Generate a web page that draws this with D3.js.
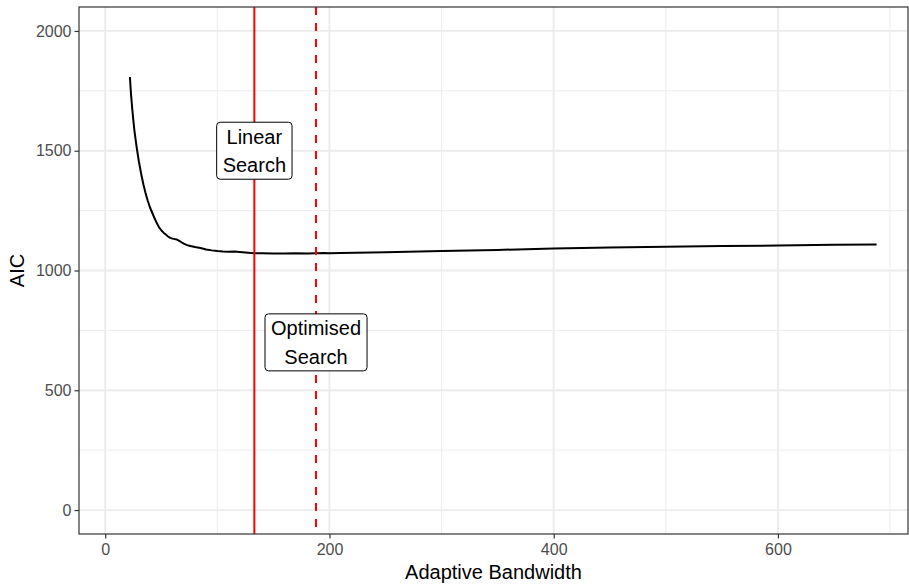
<!DOCTYPE html>
<html>
<head>
<meta charset="utf-8">
<script src="https://cdn.jsdelivr.net/npm/d3@7"></script>
<style>
  html, body { margin: 0; padding: 0; background: #fff; }
  svg { display: block; font-family: "Liberation Sans", Arial, Helvetica, sans-serif; }
</style>
</head>
<body>
<svg id="chart" width="909" height="585"></svg>
<script>
// ---- data ----
const bandwidth = [22, 23, 24, 25, 26, 28, 30, 32, 34, 36, 38, 40, 42, 44, 46, 48, 50, 52, 54, 56, 58, 60, 62, 64, 66, 68, 70, 73, 76, 80, 85, 90, 95, 100, 105, 110, 115, 120, 125, 130, 133, 140, 150, 160, 170, 180, 188, 195, 200, 210, 250, 300, 350, 400, 450, 500, 550, 600, 650, 688];
const aic = [1808, 1735, 1680, 1630, 1585, 1515, 1455, 1405, 1360, 1322, 1290, 1262, 1240, 1218, 1198, 1180, 1168, 1158, 1150, 1142, 1136, 1133, 1131, 1129, 1124, 1118, 1112, 1106, 1102, 1098, 1094, 1088, 1084, 1081, 1079, 1078, 1079, 1077, 1075, 1073, 1072, 1072, 1071, 1071, 1072, 1071, 1072, 1073, 1072, 1073, 1076, 1081, 1086, 1092, 1096, 1099, 1102, 1104, 1107, 1109];
const searchNames = ["Linear\nSearch", "Optimised\nSearch"];
const searchBandwidth = [133, 188];
const searchLabelY = [1500, 700];
const searchDash = ["none", "8,8"];
const xTicks = [0, 200, 400, 600];
const xMinor = [100, 300, 500, 700];
const yTicks = [0, 500, 1000, 1500, 2000];
const yMinor = [250, 750, 1250, 1750];
const xTitle = "Adaptive Bandwidth";
const yTitle = "AIC";

// ---- layout ----
const svg = d3.select("#chart");
const P = { left: 79, right: 908, top: 7, bottom: 534 };
const x = d3.scaleLinear().domain([-23.4, 716]).range([P.left, P.right]);
const y = d3.scaleLinear().domain([-100, 2100]).range([P.bottom, P.top]);

const grid = svg.append("g");
grid.selectAll(".xmin").data(xMinor).join("line")
  .attr("x1", d => x(d)).attr("x2", d => x(d)).attr("y1", P.top).attr("y2", P.bottom)
  .attr("stroke", "#EBEBEB").attr("stroke-width", 0.9);
grid.selectAll(".ymin").data(yMinor).join("line")
  .attr("y1", d => y(d)).attr("y2", d => y(d)).attr("x1", P.left).attr("x2", P.right)
  .attr("stroke", "#EBEBEB").attr("stroke-width", 0.9);
grid.selectAll(".xmaj").data(xTicks).join("line")
  .attr("x1", d => x(d)).attr("x2", d => x(d)).attr("y1", P.top).attr("y2", P.bottom)
  .attr("stroke", "#EBEBEB").attr("stroke-width", 1.8);
grid.selectAll(".ymaj").data(yTicks).join("line")
  .attr("y1", d => y(d)).attr("y2", d => y(d)).attr("x1", P.left).attr("x2", P.right)
  .attr("stroke", "#EBEBEB").attr("stroke-width", 1.8);

// curve
const pts = bandwidth.map((b, i) => [b, aic[i]]);
svg.append("path").datum(pts)
  .attr("fill", "none").attr("stroke", "#000").attr("stroke-width", 2)
  .attr("stroke-linejoin", "round")
  .attr("d", d3.line().x(d => x(d[0])).y(d => y(d[1])));

// vertical lines
svg.selectAll(".vl").data(searchBandwidth).join("line")
  .attr("x1", d => x(d)).attr("x2", d => x(d)).attr("y1", P.top).attr("y2", P.bottom)
  .attr("stroke", "#FF0000").attr("stroke-width", 2)
  .attr("stroke-dasharray", (d, i) => searchDash[i]);

// labels
searchNames.forEach((name, i) => {
  const lines = name.split("\n");
  const cx = x(searchBandwidth[i]), cy = y(searchLabelY[i]);
  const g = svg.append("g");
  const t = g.append("text").attr("text-anchor", "middle").attr("font-size", 20).attr("fill", "#000");
  lines.forEach((l, j) => {
    t.append("tspan").attr("x", cx).attr("y", cy - 7 + j * 28.5).text(l);
  });
  const bb = t.node().getBBox();
  const w = bb.width + 12, h = 57;
  g.insert("rect", "text")
    .attr("x", cx - w / 2).attr("y", cy - 28.5).attr("width", w).attr("height", h)
    .attr("rx", 3.5).attr("ry", 3.5)
    .attr("fill", "#fff").attr("stroke", "#000").attr("stroke-width", 1);
});

// panel border
svg.append("rect").attr("x", P.left).attr("y", P.top)
  .attr("width", P.right - P.left).attr("height", P.bottom - P.top)
  .attr("fill", "none").attr("stroke", "#333333").attr("stroke-width", 1.2);

// axes
const xAxis = d3.axisBottom(x).tickValues(xTicks).tickSize(4.5).tickPadding(3).tickFormat(d3.format("d"));
const yAxis = d3.axisLeft(y).tickValues(yTicks).tickSize(4.5).tickPadding(3).tickFormat(d3.format("d"));
const gx = svg.append("g").attr("transform", `translate(0,${P.bottom})`).call(xAxis);
const gy = svg.append("g").attr("transform", `translate(${P.left},0)`).call(yAxis);
[gx, gy].forEach(g => {
  g.select(".domain").remove();
  g.selectAll(".tick line").attr("stroke", "#333333").attr("stroke-width", 1.2);
  g.selectAll(".tick text").attr("fill", "#4D4D4D").attr("font-size", 16)
    .attr("font-family", "'Liberation Sans', Arial, Helvetica, sans-serif");
});
gx.selectAll(".tick text").attr("dy", null).attr("y", 21);

// titles
svg.append("text").attr("x", (P.left + P.right) / 2).attr("y", 579)
  .attr("text-anchor", "middle").attr("font-size", 20).attr("fill", "#000").text(xTitle);
svg.append("text").attr("transform", `translate(24,${(P.top + P.bottom) / 2}) rotate(-90)`)
  .attr("text-anchor", "middle").attr("font-size", 20).attr("fill", "#000").text(yTitle);
</script>
</body>
</html>
